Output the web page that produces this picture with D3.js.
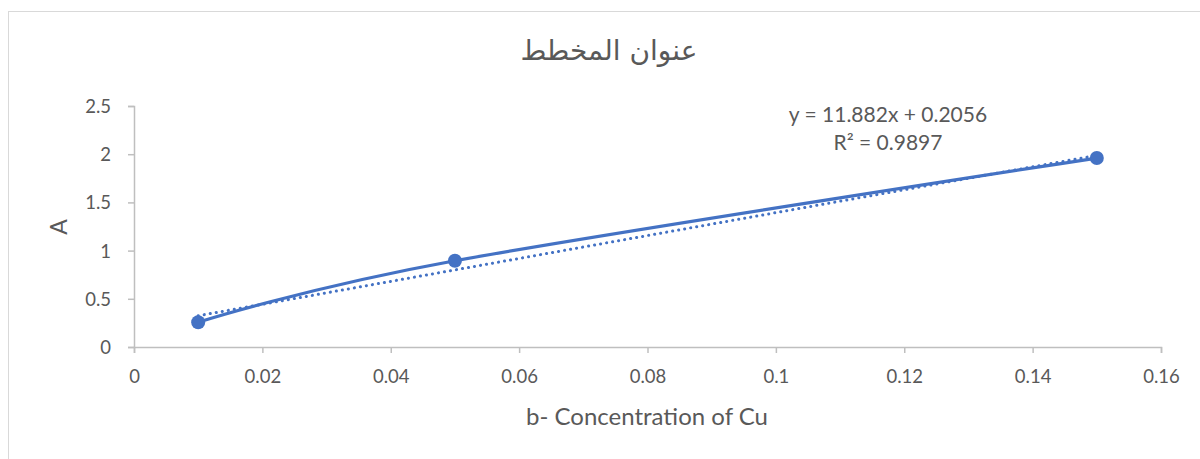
<!DOCTYPE html>
<html><head><meta charset="utf-8">
<script src="https://cdn.jsdelivr.net/npm/d3@7"></script>
<style>body{margin:0;background:#fff;}text{font-family:Lato,"Open Sans",sans-serif;fill:#595959;}</style>
</head><body><svg id="c" width="1200" height="459"></svg>
<script>
const xValues = [0.01, 0.05, 0.15];
const yValues = [0.257, 0.895, 1.96];
const xTicks = [0, 0.02, 0.04, 0.06, 0.08, 0.1, 0.12, 0.14, 0.16];
const yTicks = [0, 0.5, 1, 1.5, 2, 2.5];
const title = "عنوان المخطط";
const xLabel = "b- Concentration of Cu";
const yLabel = "A";
const trendSlope = 11.882, trendIntercept = 0.2056, trendR2 = 0.9897;

const svg = d3.select("#c");
svg.append("rect").attr("x",8.5).attr("y",11.5).attr("width",1200).attr("height",460)
  .attr("fill","#fff").attr("stroke","#d9d9d9");
const x = d3.scaleLinear().domain([0,0.16]).range([134,1161]);
const y = d3.scaleLinear().domain([0,2.5]).range([347,106]);
const color = "#4472C4";

const xa = svg.append("g").attr("transform","translate(0,347)")
  .call(d3.axisBottom(x).tickValues(xTicks).tickSize(6).tickPadding(12).tickFormat(d=>String(d)));
const ya = svg.append("g").attr("transform","translate(134,0)")
  .call(d3.axisLeft(y).tickValues(yTicks).tickSize(6).tickPadding(17).tickFormat(d=>String(d)));
[xa,ya].forEach(a=>{a.attr("font-family",null).attr("font-size",null);
  a.select(".domain").attr("stroke","#bfbfbf").attr("stroke-width",1.5);
  a.selectAll(".tick line").attr("stroke","#bfbfbf").attr("stroke-width",1.5);
  a.selectAll("text").style("font-size","18.5px").attr("fill","#595959");});
xa.selectAll("text").attr("dy","0.95em");
ya.selectAll("text").attr("dy","0.35em");

const pts = xValues.map((v,i)=>[v,yValues[i]]);
const tx = d3.extent(xValues);
svg.append("path").datum(tx.map(v=>[v, trendSlope*v+trendIntercept]))
  .attr("d", d3.line().x(d=>x(d[0])).y(d=>y(d[1])))
  .attr("fill","none").attr("stroke",color).attr("stroke-width",3)
  .attr("stroke-dasharray","0.1 6").attr("stroke-linecap","round");
svg.append("path").datum(pts)
  .attr("d", d3.line().x(d=>x(d[0])).y(d=>y(d[1])).curve(d3.curveCardinal.tension(0)))
  .attr("fill","none").attr("stroke",color).attr("stroke-width",3.2).attr("stroke-linecap","round");
svg.selectAll("circle.p").data(pts).join("circle").attr("class","p")
  .attr("cx",d=>x(d[0])).attr("cy",d=>y(d[1])).attr("r",7).attr("fill",color);

svg.append("text").attr("x",609).attr("y",60).attr("text-anchor","middle")
  .style("font-size","28px").style("font-family","'DejaVu Sans','Noto Sans',sans-serif").text(title);
svg.append("text").attr("x",647).attr("y",425).attr("text-anchor","middle").style("font-size","24px").text(xLabel);
svg.append("text").attr("transform","translate(67,227) rotate(-90)").attr("text-anchor","middle").style("font-size","23px").text(yLabel);
svg.append("text").attr("x",888).attr("y",122).attr("text-anchor","middle").style("font-size","21px")
  .text(`y = ${trendSlope}x + ${trendIntercept}`);
svg.append("text").attr("x",888).attr("y",150).attr("text-anchor","middle").style("font-size","21px")
  .text(`R² = ${trendR2}`);
</script></body></html>
